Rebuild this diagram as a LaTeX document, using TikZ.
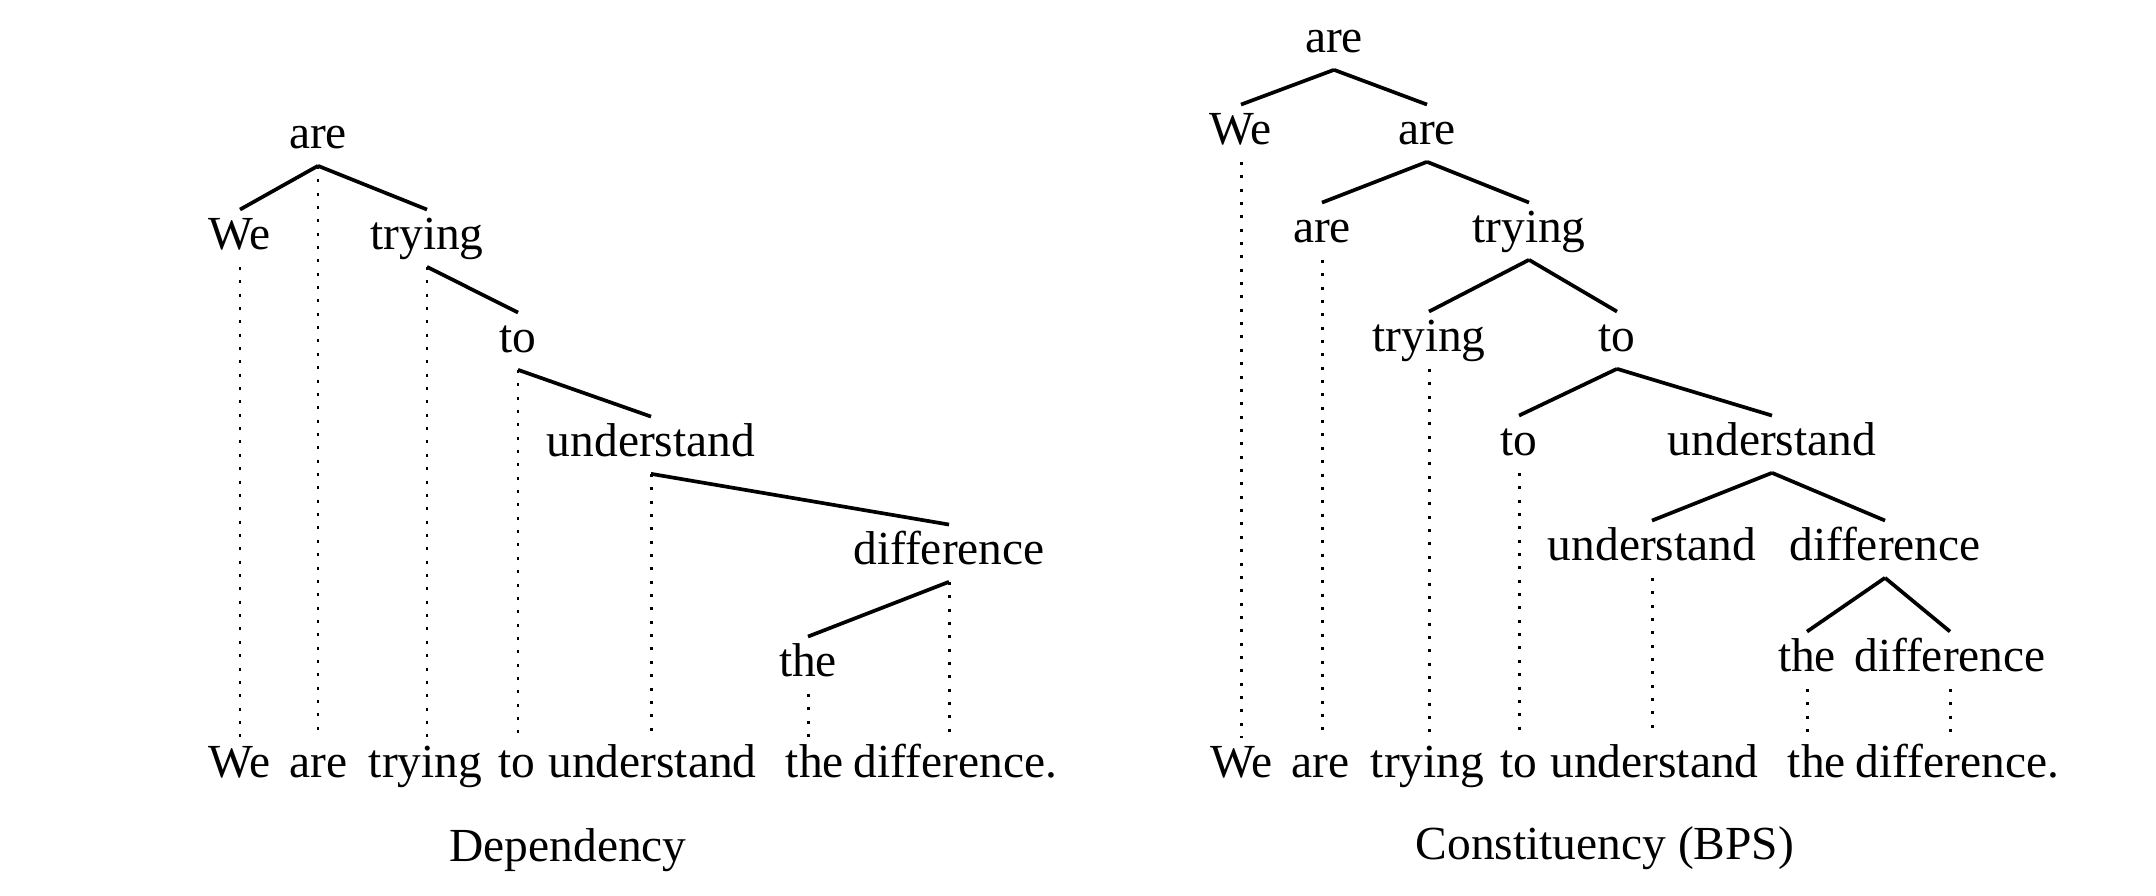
\documentclass[tikz,border=0pt]{standalone}
\usepackage{fontspec}
\setmainfont{Liberation Serif}
\usetikzlibrary{calc}
\tikzstyle{word} = [inner sep=0pt, outer sep=0pt, text height=11.5pt, text depth=4.8pt, anchor=base, font=\fontsize{13.5}{16}\selectfont]
\tikzstyle{branch} = [line width=1.05pt]
\tikzstyle{trace} = [line width=0.85pt, dash pattern=on 0.85pt off 2.95pt]

\begin{document}
\begin{tikzpicture}
      \useasboundingbox (0,0) rectangle (21.56,8.96);
      % dependency tree
      \node[word] (d1) at (3.18,7.47) {are};
      \node[word] (d2) at (2.40,6.46) {We};
      \node[word] (d3) at (4.27,6.46) {trying};
      \node[word] (d4) at (5.18,5.43) {to};
      \node[word] (d5) at (6.51,4.39) {understand};
      \node[word] (d6) at (9.49,3.31) {difference};
      \node[word] (d7) at (8.08,2.19) {the};
      \node[word] (dw1) at (2.395,1.18) {We};
      \node[word] (dw2) at (3.184,1.18) {are};
      \node[word] (dw3) at (4.255,1.18) {trying};
      \node[word] (dw4) at (5.167,1.18) {to};
      \node[word] (dw5) at (6.525,1.18) {understand};
      \node[word] (dw6) at (8.148,1.18) {the};
      \node[word] (dw7) at (9.555,1.18) {difference.};
      \node[word] (dcap) at (5.68,0.34) {Dependency};
      \draw[branch] (d1.south)--(d2.north);
      \draw[branch] (d1.south)--(d3.north);
      \draw[branch] (d3.south)--(d4.north);
      \draw[branch] (d4.south)--(d5.north);
      \draw[branch] (d5.south)--(d6.north);
      \draw[branch] (d6.south)--(d7.north);
      \draw[trace] (d2.south)--(d2.south |- dw1.north);
      \draw[trace] (d1.south)--(d1.south |- dw2.north);
      \draw[trace] (d3.south)--(d3.south |- dw3.north);
      \draw[trace] (d4.south)--(d4.south |- dw4.north);
      \draw[trace] (d5.south)--(d5.south |- dw5.north);
      \draw[trace] (d7.south)--(d7.south |- dw6.north);
      \draw[trace] (d6.south)--(d6.south |- dw7.north);
      % constituency tree
      \node[word] (c1) at (13.34,8.43) {are};
      \node[word] (c2) at (12.41,7.51) {We};
      \node[word] (c3) at (14.27,7.51) {are};
      \node[word] (c4) at (13.22,6.53) {are};
      \node[word] (c5) at (15.29,6.53) {trying};
      \node[word] (c6) at (14.29,5.44) {trying};
      \node[word] (c7) at (16.17,5.44) {to};
      \node[word] (c8) at (15.19,4.40) {to};
      \node[word] (c9) at (17.72,4.40) {understand};
      \node[word] (c10) at (16.52,3.35) {understand};
      \node[word] (c11) at (18.85,3.35) {difference};
      \node[word] (c12) at (18.07,2.24) {the};
      \node[word] (c13) at (19.50,2.24) {difference};
      \node[word] (cw1) at (12.415,1.18) {We};
      \node[word] (cw2) at (13.204,1.18) {are};
      \node[word] (cw3) at (14.275,1.18) {trying};
      \node[word] (cw4) at (15.187,1.18) {to};
      \node[word] (cw5) at (16.545,1.18) {understand};
      \node[word] (cw6) at (18.168,1.18) {the};
      \node[word] (cw7) at (19.575,1.18) {difference.};
      \node[word] (ccap) at (16.05,0.36) {Constituency (BPS)};
      \draw[branch] (c1.south)--(c2.north);
      \draw[branch] (c1.south)--(c3.north);
      \draw[branch] (c3.south)--(c4.north);
      \draw[branch] (c3.south)--(c5.north);
      \draw[branch] (c5.south)--(c6.north);
      \draw[branch] (c5.south)--(c7.north);
      \draw[branch] (c7.south)--(c8.north);
      \draw[branch] (c7.south)--(c9.north);
      \draw[branch] (c9.south)--(c10.north);
      \draw[branch] (c9.south)--(c11.north);
      \draw[branch] (c11.south)--(c12.north);
      \draw[branch] (c11.south)--(c13.north);
      \draw[trace] (c2.south)--(c2.south |- cw1.north);
      \draw[trace] (c4.south)--(c4.south |- cw2.north);
      \draw[trace] (c6.south)--(c6.south |- cw3.north);
      \draw[trace] (c8.south)--(c8.south |- cw4.north);
      \draw[trace] (c10.south)--(c10.south |- cw5.north);
      \draw[trace] (c12.south)--(c12.south |- cw6.north);
      \draw[trace] (c13.south)--(c13.south |- cw7.north);
\end{tikzpicture}
\end{document}
